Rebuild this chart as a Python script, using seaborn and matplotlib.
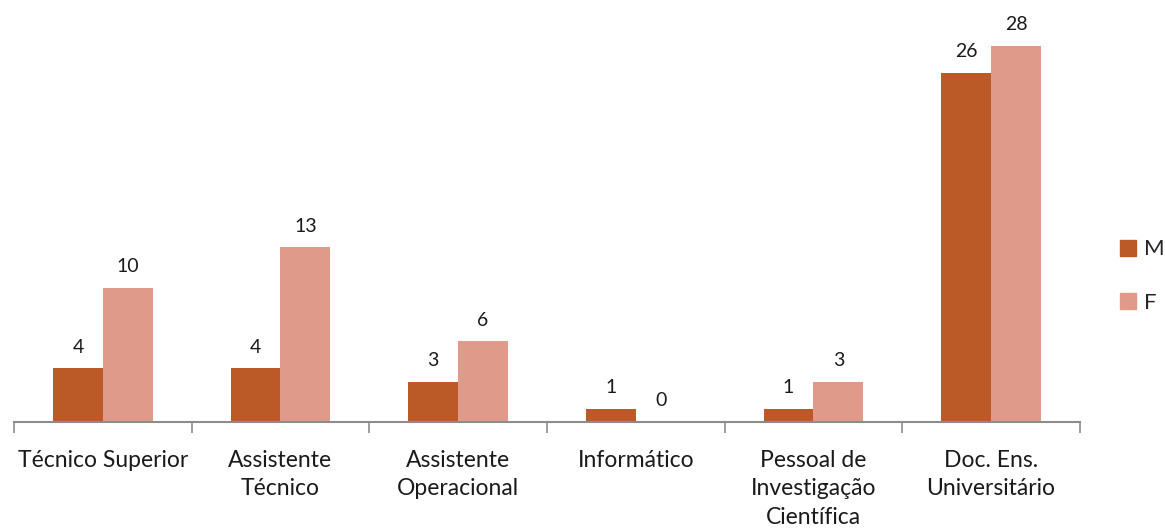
import seaborn as sns
import pandas as pd
import numpy as np
import matplotlib.pyplot as plt

categories = ["Técnico Superior", "Assistente\nTécnico", "Assistente\nOperacional",
              "Informático", "Pessoal de\nInvestigação\nCientífica", "Doc. Ens.\nUniversitário"]
m_values = [4, 4, 3, 1, 1, 26]
f_values = [10, 13, 6, 0, 3, 28]
series = ["M", "F"]

COLORS = {"M": "#BC5A27", "F": "#E09A8A"}
AXIS_GRAY = "#8C8C8C"
TEXT_COLOR = "#1a1a1a"

df = pd.DataFrame({
    "Categoria": categories * 2,
    "Valor": m_values + f_values,
    "Sexo": ["M"] * len(categories) + ["F"] * len(categories),
})

sns.set_theme(style="white")
plt.rcParams['font.family'] = ['Lato', 'DejaVu Sans']

fig = plt.figure(figsize=(11.65, 5.29), dpi=100)
ax = fig.add_axes([0.012, 0.2023, 0.915, 0.78])

sns.barplot(data=df, x="Categoria", y="Valor", hue="Sexo", order=categories,
            hue_order=series, palette=COLORS, width=0.56, gap=0, saturation=1,
            edgecolor="none", linewidth=0, ax=ax)

for container in ax.containers:
    ax.bar_label(container, fmt="%d", padding=9, fontsize=14, color=TEXT_COLOR)

ax.set_xlim(-0.5, len(categories) - 0.5)
ax.set_ylim(0, 30.7)
ax.set_xlabel("")
ax.set_ylabel("")
ax.set_yticks([])

for side in ["top", "right", "left"]:
    ax.spines[side].set_visible(False)
ax.spines["bottom"].set_color(AXIS_GRAY)
ax.spines["bottom"].set_linewidth(1.5)

# category boundary ticks
ax.set_xticks(np.arange(-0.5, len(categories), 1), minor=True)
ax.tick_params(axis="x", which="minor", bottom=True, length=8, width=1.2,
               color=AXIS_GRAY, direction="out")
ax.tick_params(axis="x", which="major", bottom=False, pad=14)
ax.set_xticklabels(categories, fontsize=16.5, color=TEXT_COLOR, linespacing=1.45)

leg = ax.get_legend()
leg.remove()
handles = [plt.Rectangle((0, 0), 1, 1, color=COLORS[s]) for s in series]
fig.legend(handles, series, loc="center left", bbox_to_anchor=(0.961, 0.478),
           frameon=False, fontsize=16, handlelength=0.75, handleheight=0.75,
           handletextpad=0.35, labelspacing=1.5, borderpad=0, borderaxespad=0)

fig.savefig("out.png", dpi=100)
